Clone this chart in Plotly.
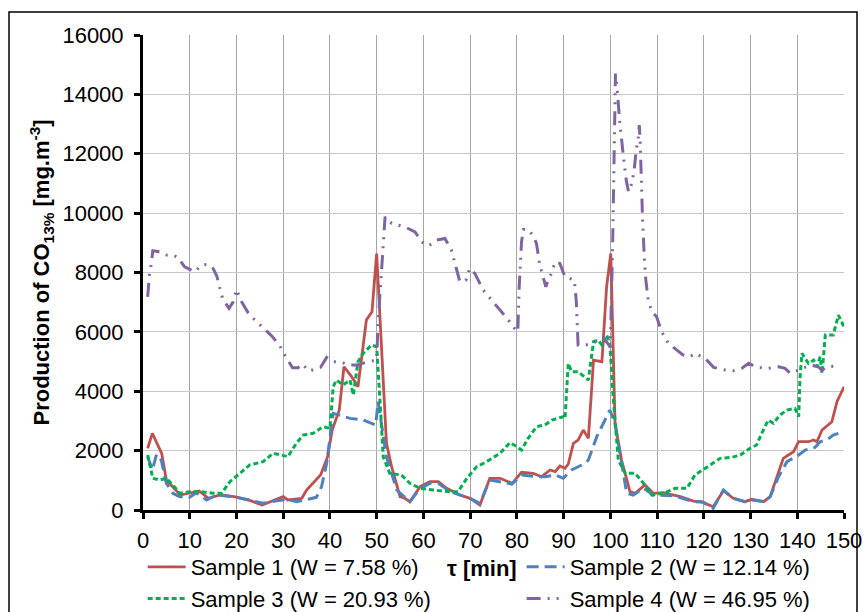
import plotly.graph_objects as go

# ---- data ----
t1 = [1, 2, 4, 5, 8, 10, 12, 14, 16.5, 19.5, 23, 25.5, 28, 30, 31, 34, 35, 38, 39.5, 40.5, 42, 43,
      44.6, 46, 47.8, 49, 50, 51.4, 52.1, 53.2, 55, 56, 57.1, 59.3, 61.4, 63.2, 65, 67.8, 70, 72.1,
      74.2, 76.4, 79, 81, 83.5, 85.3, 87.1, 88.2, 89.2, 90.3, 91, 92.1, 93.1, 94.2, 95.3, 96.4, 98.2,
      99.2, 100.1, 101, 102.4, 104.2, 105.3, 107.4, 109.2, 111.3, 113.5, 115, 117.8, 119.5, 122,
      124.2, 126.3, 128.8, 130.3, 132.8, 134.2, 137, 139.2, 140.3, 142.4, 143.5, 144.2, 145.3,
      147.4, 148.5, 150]
s1 = [2077, 2582, 1909, 1010, 505, 562, 640, 394, 505, 449, 314, 168, 337, 449, 337, 394, 673, 1178,
      1795, 2700, 3370, 4825, 4500, 4150, 6400, 6680, 8640, 4040, 2245, 1458, 449, 394, 280, 785,
      953, 953, 730, 505, 394, 168, 1067, 1067, 899, 1269, 1235, 1122, 1347, 1291, 1481, 1403, 1549,
      2245, 2357, 2694, 2413, 5050, 4994, 7519, 8643, 2919, 1683, 617, 562, 842, 562, 583, 505, 449,
      300, 280, 112, 650, 394, 280, 360, 280, 449, 1740, 1964, 2300, 2300, 2357, 2300, 2694, 2973,
      3646, 4152]

t2 = [1, 2, 2.9, 3.9, 5, 6.4, 7.9, 10, 11.4, 13.6, 15.7, 19.3, 22.8, 25.7, 28.6, 31, 32.8, 37.1,
      38.2, 39.3, 40.7, 44.3, 47.1, 49.8, 50.3, 52.1, 54.3, 57.1, 59.3, 61.4, 63.2, 65.7, 70, 72.1,
      74.2, 76.4, 78.9, 81, 84.2, 86, 88.2, 89.9, 91.7, 94.6, 95.3, 97.1, 98.5, 99.9, 101, 102.4,
      103.5, 104.9, 107.1, 109.2, 113.5, 117.8, 119.9, 122, 124.2, 126.3, 128.8, 130.3, 133.1,
      134.2, 136, 137.8, 140.3, 141.7, 143.8, 144.9, 146.3, 147.7, 148.8]
s2 = [1795, 1347, 1875, 1683, 899, 562, 449, 427, 583, 337, 505, 449, 337, 225, 314, 360, 280, 427,
      785, 1571, 3255, 3086, 3030, 2862, 3646, 1795, 673, 280, 730, 899, 900, 617, 394, 225, 1010,
      953, 875, 1178, 1122, 1122, 1178, 1067, 1347, 1571, 1683, 2469, 2919, 3367, 2919, 1571, 562,
      505, 730, 505, 480, 280, 260, 56, 673, 394, 280, 337, 280, 449, 1122, 1627, 1852, 2020, 2110,
      2300, 2357, 2525, 2582]

t3 = [1, 2.1, 3.6, 5, 6.4, 7.9, 10, 12.5, 15, 16.8, 18.6, 20.7, 22.8, 25.7, 27.8, 29.6, 31, 32.8,
      34.3, 36.4, 38.5, 40, 40.7, 41.4, 42.8, 44.3, 45, 46, 47.1, 48.9, 50, 50.7, 51.4, 52.8, 55.3,
      57.1, 59.3, 62.1, 65.7, 67.4, 69.3, 71.4, 73.5, 76.4, 78.5, 80, 81, 82.4, 84.2, 86, 87.5, 89.9,
      90.3, 91, 91.7, 93.1, 95.3, 96.4, 97.4, 98.2, 99.2, 99.9, 100.6, 101.7, 103.2, 105.3, 107.1,
      108.9, 111.3, 113.9, 116.4, 118.1, 120.3, 122.1, 123.5, 126, 127.8, 129.9, 131.3, 132.4,
      133.8, 134.9, 136.3, 137.8, 139.5, 140.3, 140.6, 141, 142.4, 143.5, 144.2, 144.9, 145.3, 146,
      147.7, 148.8, 150]
s3 = [1852, 1067, 1010, 1067, 842, 562, 617, 617, 562, 562, 953, 1235, 1515, 1627, 1909, 1852, 1795,
      2245, 2525, 2582, 2806, 2750, 4152, 4377, 4209, 4377, 3872, 4994, 5276, 5556, 5500, 3704,
      1795, 1235, 1178, 899, 730, 673, 617, 617, 1067, 1458, 1627, 1909, 2267, 2133, 2020, 2413,
      2806, 2862, 3030, 3142, 3086, 4939, 4657, 4657, 4377, 5669, 5724, 5556, 5893, 5613, 3815,
      1683, 1235, 1235, 899, 505, 562, 730, 730, 1178, 1403, 1571, 1740, 1774, 1852, 2077, 2189,
      2582, 3030, 2919, 3199, 3367, 3424, 3142, 4488, 5276, 4939, 5050, 4825, 5162, 4602, 5893,
      5893, 6565, 6172]

t4 = [1, 1.4, 1.8, 2.1, 3.6, 5, 6.4, 7.5, 8.9, 11.1, 12.5, 13.9, 15, 15.8, 16.4, 17.1, 18.4, 19.3,
      20, 21.1, 22.5, 24.3, 26.1, 27.7, 29.3, 30.6, 32, 33.2, 34.1, 35.5, 38, 39.3, 40.7, 42.1, 44.3,
      45.7, 48.2, 50, 50.3, 50.8, 51.4, 51.8, 53.2, 56, 58.2, 59.6, 61, 61.7, 62.8, 64.6, 66, 66.7,
      67.8, 69.1, 69.9, 71, 72.8, 74.6, 76.4, 78.2, 79.2, 80.2, 80.5, 81, 81.4, 82.4, 83.4, 84.2,
      84.9, 85.7, 86.2, 86.7, 87.4, 88.2, 89.2, 90.3, 91.4, 92.3, 92.7, 93.1, 93.7, 96, 98.5, 100,
      100.5, 101.1, 101.4, 102, 102.8, 103.4, 103.9, 104.6, 105.1, 105.5, 106, 106.2, 106.4, 106.6,
      106.9, 107.3, 107.6, 108.1, 108.9, 109.9, 111, 112.4, 114.2, 115.6, 117.1, 118.1, 120.3,
      122.1, 124.6, 126.3, 128.1, 129.6, 131.3, 133.8, 136, 137.4, 138.5, 141, 142.8, 144.5, 145.3,
      146.3, 148.5]
s4 = [7182, 7970, 8306, 8731, 8697, 8586, 8586, 8508, 8192, 8024, 8249, 8272, 8137, 7879, 7498, 7094,
      6791, 7014, 7431, 7014, 6643, 6340, 6084, 5835, 5522, 5141, 4791, 4791, 4916, 4680, 4805,
      5141, 4994, 4994, 4882, 4882, 4994, 5050, 6286, 7519, 8697, 9876, 9652, 9539, 9371, 9034,
      8899, 8956, 9091, 9148, 8754, 8361, 7688, 7744, 8137, 7970, 7407, 7070, 6734, 6397, 6172,
      6004, 7519, 9034, 9450, 9450, 9259, 8980, 8249, 7744, 7519, 7744, 7970, 8361, 8306, 7856,
      7801, 7744, 7070, 5556, 5522, 5600, 5800, 5500, 9000, 14700, 14300, 13100, 11896, 11111,
      10717, 11000, 11448, 12064, 12569, 12963, 12347, 10886, 9764, 8418, 7744, 7070, 6677, 6508,
      6004, 5613, 5387, 5219, 5162, 5276, 5107, 4805, 4714, 4691, 4771, 4939, 4805, 4771, 4825,
      4771, 4602, 4771, 4882, 4825, 4714, 4825, 4849]

names = ["Sample 1 (W = 7.58 %)", "Sample 2 (W = 12.14 %)",
         "Sample 3 (W = 20.93 %)", "Sample 4 (W = 46.95 %)"]
x_ticks = list(range(0, 151, 10))
y_ticks = list(range(0, 16001, 2000))
x_labels = [str(v) for v in x_ticks]
y_labels = [str(v) for v in y_ticks]

FONT = "Liberation Sans, Arial, sans-serif"
L, R, T, B = 143, 20, 35, 102
PW, PH = 864 - L - R, 612 - T - B


def px_x(p):
    return (p - L) / PW


def px_y(p):
    return (612 - B - p) / PH


fig = go.Figure()
fig.add_trace(go.Scatter(x=t1, y=s1, mode="lines", name=names[0],
                         line=dict(color="#C0504D", width=2.8)))
fig.add_trace(go.Scatter(x=t2, y=s2, mode="lines", name=names[1],
                         line=dict(color="#4F81BD", width=3, dash="12px,6px")))
fig.add_trace(go.Scatter(x=t3, y=s3, mode="lines", name=names[2],
                         line=dict(color="#00B050", width=3, dash="5px,3px")))
fig.add_trace(go.Scatter(x=t4, y=s4, mode="lines", name=names[3],
                         line=dict(color="#8064A2", width=3,
                                   dash="14px,7px,2px,7px,2px,7px")))

fig.update_layout(
    width=864, height=612,
    margin=dict(l=L, r=R, t=T, b=B, autoexpand=False),
    paper_bgcolor="white", plot_bgcolor="white",
    font=dict(family=FONT, size=22, color="black"),
    showlegend=True,
    legend=dict(orientation="h", x=-0.0005, xanchor="left", y=px_y(546), yanchor="top",
                entrywidth=326, itemwidth=38, font=dict(size=22, family=FONT),
                bgcolor="rgba(0,0,0,0)", tracegroupgap=0, itemclick=False),
    xaxis=dict(range=[0, 150], tickvals=x_ticks, ticktext=x_labels, ticks="outside", ticklen=6,
               tickwidth=3, tickcolor="black", showline=True, linecolor="black", linewidth=3,
               showgrid=True, gridcolor="#A6A6A6", gridwidth=1.2, zeroline=False,
               tickfont=dict(size=22), ticklabelstandoff=3, automargin=False),
    yaxis=dict(range=[0, 16000], tickvals=y_ticks, ticktext=y_labels, ticks="outside", ticklen=6,
               tickwidth=3, tickcolor="black", showline=True, linecolor="black", linewidth=3,
               showgrid=True, gridcolor="#C8C8C8", gridwidth=1.2, zeroline=False,
               tickfont=dict(size=22), ticklabelstandoff=6, automargin=False,
               title=dict(text="<b>Production of CO<sub>13%</sub> [mg.m<sup>-3</sup>]</b>",
                          font=dict(size=22), standoff=7)),
)

fig.add_annotation(text="<b>τ [min]</b>", x=px_x(482), y=px_y(568), xref="paper", yref="paper",
                   showarrow=False, font=dict(size=22), xanchor="center", yanchor="middle")

fig.add_shape(type="rect", xref="paper", yref="paper", x0=px_x(9), x1=px_x(857),
              y0=px_y(640), y1=px_y(12),
              line=dict(color="black", width=1.5), fillcolor="rgba(0,0,0,0)", layer="below")

fig.write_html("out.html")
